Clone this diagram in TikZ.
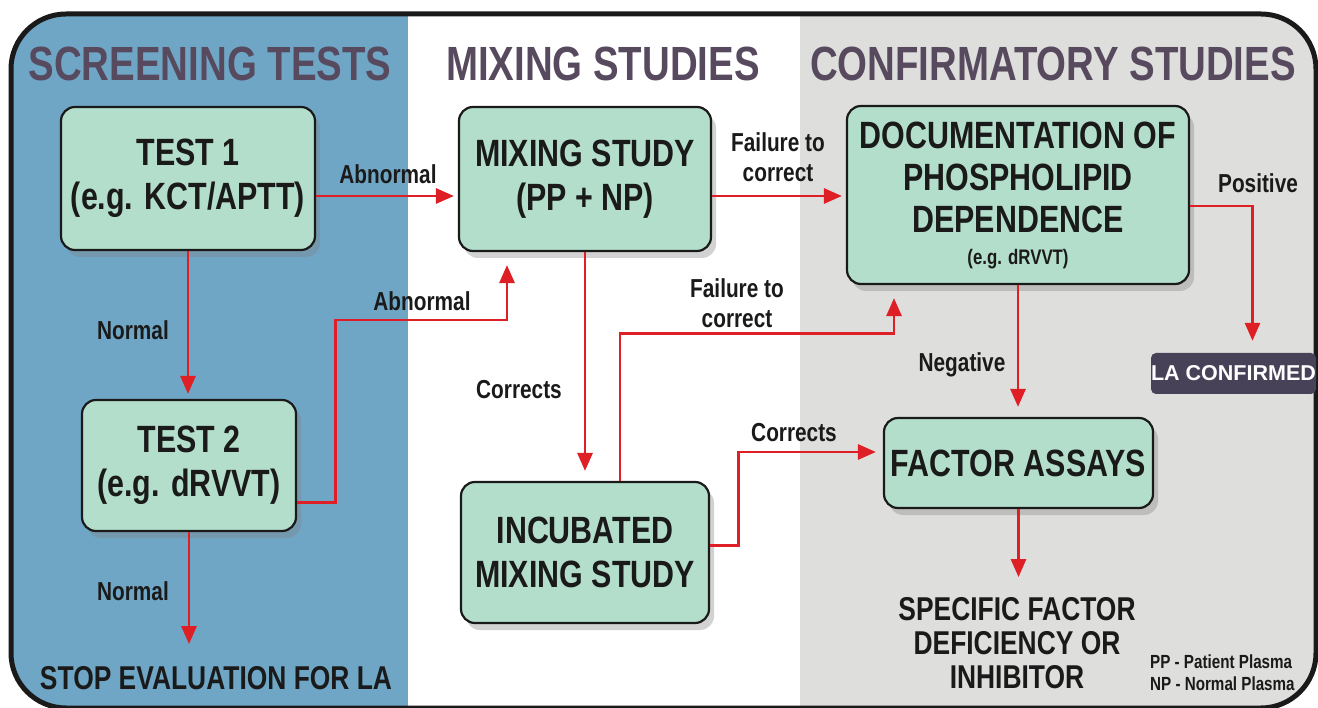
\documentclass[tikz,border=0pt]{standalone}
\usepackage{fontspec}
\setmainfont[FakeStretch=0.8]{Liberation Sans}
\newfontfamily\wideLS{Liberation Sans}
\usetikzlibrary{arrows.meta,shadows,calc}
\definecolor{panelblue}{RGB}{111,166,198}
\definecolor{panelgrey}{RGB}{222,222,220}
\definecolor{mint}{RGB}{179,222,203}
\definecolor{headcol}{RGB}{88,74,94}
\definecolor{arrowred}{RGB}{222,32,38}
\definecolor{lacol}{RGB}{72,66,88}
\definecolor{ink}{RGB}{26,26,26}
\tikzset{
  box/.style={draw=ink, line width=2.2pt, fill=mint, rounded corners=14pt,
    drop shadow={shadow xshift=5pt, shadow yshift=-7pt, opacity=0.35},
    align=center, inner sep=0pt, text=ink,
    font=\bfseries\fontsize{38}{44}\selectfont},
  heading/.style={text=headcol, font=\bfseries\fontsize{48}{52}\selectfont, inner sep=0pt},
  lbl/.style={text=ink, align=center, inner sep=0pt, font=\bfseries\fontsize{26}{30}\selectfont},
  bigtxt/.style={text=ink, align=center, inner sep=0pt, font=\bfseries\fontsize{33}{34}\selectfont},
  conn/.style={draw=arrowred, line width=2.8pt, -{Triangle[length=18pt,width=15pt]}},
}
\begin{document}
\begin{tikzpicture}[x=1pt,y=-1pt]
\useasboundingbox (0,0) rectangle (1318,708);
% panels
\begin{scope}
  \clip[rounded corners=55pt] (11,14) rectangle (1316,708);
  \fill[panelblue] (0,0) rectangle (408,708);
  \fill[white] (408,0) rectangle (800,708);
  \fill[panelgrey] (800,0) rectangle (1318,708);
\end{scope}
\draw[line width=5pt, rounded corners=55pt, draw=ink] (11,14) rectangle (1316,708);

% headings
\node[heading] (h1) at (210,64) {SCREENING TESTS};
\node[heading] (h2) at (603,64) {MIXING STUDIES};
\node[heading] (h3) at (1053,64) {CONFIRMATORY STUDIES};

% boxes
\node[box, minimum width=254pt, minimum height=143pt] (t1) at (188,178.5) {TEST 1\\(e.g. KCT/APTT)};
\node[box, minimum width=214pt, minimum height=131pt] (t2) at (189,465.5) {TEST 2\\(e.g. dRVVT)};
\node[box, minimum width=252pt, minimum height=144pt] (mix) at (585,179) {MIXING STUDY\\(PP + NP)};
\node[box, minimum width=248pt, minimum height=141pt] (inc) at (585,552.5) {INCUBATED\\MIXING STUDY};
\node[box, minimum width=342pt, minimum height=178pt, font=\bfseries\fontsize{38}{42}\selectfont] (doc) at (1018,195)
  {DOCUMENTATION OF\\PHOSPHOLIPID\\DEPENDENCE\\[-10pt]{\fontsize{21}{24}\selectfont (e.g. dRVVT)}};
\node[box, minimum width=269pt, minimum height=90pt] (fa) at (1018.5,463) {FACTOR ASSAYS};
\node[fill=lacol, rounded corners=5pt, minimum width=165pt, minimum height=41pt, inner sep=0pt,
  text=white, font=\wideLS\bfseries\fontsize{21.5}{24}\selectfont] (la) at (1233.5,373.5) {LA CONFIRMED};

% outcome texts
\node[bigtxt] (stop) at (216,678) {STOP EVALUATION FOR LA};
\node[bigtxt] (spec) at (1017,643) {SPECIFIC FACTOR\\DEFICIENCY OR\\INHIBITOR};
\node[text=ink, align=left, inner sep=0pt, anchor=west, font=\bfseries\fontsize{19}{22}\selectfont] (legend) at (1150,673)
  {PP - Patient Plasma\\NP - Normal Plasma};

% connectors
\draw[conn, shorten >=4pt] ($(t1.east)+(0,17.5)$) -- ($(mix.west)+(0,17)$);
\draw[conn, shorten >=5pt] (t1.south) -- (t1.south |- t2.north);
\draw[conn, shorten >=13pt] ($(t2.east)+(0,37)$) -- ++(38,0) -- ++(0,-182.5) -| ($(mix.south)+(-78,0)$);
\draw[conn, shorten >=22pt] (t2.south) -- (t2.south |- stop.north);
\draw[conn, shorten >=10pt] (mix.south) -- (inc.north);
\draw[conn, shorten >=4pt] ($(mix.east)+(0,17)$) -- ($(doc.west)+(0,1)$);
\draw[conn, shorten >=13pt] ($(inc.north)+(35,0)$) -- ++(0,-147) -| ($(doc.south)+(-124,0)$);
\draw[conn, shorten >=7pt] ($(inc.east)+(0,-7)$) -- ++(28,0) |- ($(fa.west)+(0,-11)$);
\draw[conn, shorten >=10pt] (doc.south) -- (doc.south |- fa.north);
\draw[conn, shorten >=12pt] ($(doc.east)+(0,11)$) -| ($(la.north)+(19,0)$);
\draw[conn, shorten >=20pt] (fa.south) -- (fa.south |- spec.north);

% labels
\node[lbl] (l1) at (388,174) {Abnormal};
\node[lbl] (l2) at (133,330) {Normal};
\node[lbl] (l3) at (422,301) {Abnormal};
\node[lbl] (l4) at (133,591) {Normal};
\node[lbl] (l5) at (519,390) {Corrects};
\node[lbl] (l6) at (778,157) {Failure to\\correct};
\node[lbl] (l7) at (737,303) {Failure to\\correct};
\node[lbl] (l8) at (794,433) {Corrects};
\node[lbl] (l9) at (962,365) {Negative};
\node[lbl] (l10) at (1258,183) {Positive};
\end{tikzpicture}
\end{document}
